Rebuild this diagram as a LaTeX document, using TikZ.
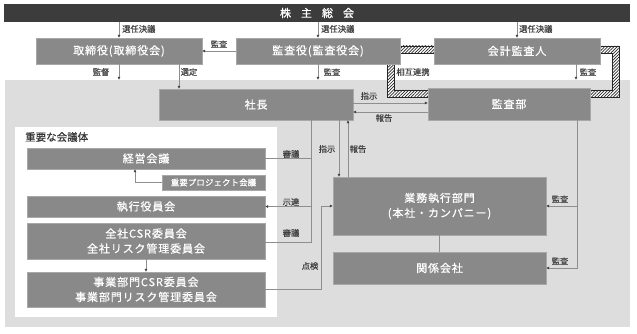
\documentclass[tikz,border=0pt]{standalone}
\usepackage{fontspec}
\setmainfont{Noto Sans CJK JP}
\newfontfamily\boxfont[LetterSpace=8,FakeBold=0.6]{Noto Sans CJK JP}
\newfontfamily\smallboxfont[LetterSpace=3,FakeBold=0.9]{Noto Sans CJK JP}
\newfontfamily\lblfont[FakeBold=0.4]{Noto Sans CJK JP}
\newfontfamily\headfont[FakeBold=1.2]{Noto Sans CJK JP}
\usetikzlibrary{arrows.meta,patterns.meta}
\definecolor{boxgray}{HTML}{898989}
\definecolor{boxedge}{HTML}{A8A8A8}
\definecolor{bggray}{HTML}{DDDDDD}
\definecolor{bardark}{HTML}{3C3C3C}
\definecolor{linegray}{HTML}{8E8E8E}
\definecolor{labelgray}{HTML}{404040}
\tikzset{
  box/.style={fill=boxgray, draw=boxedge, line width=0.6pt, text=white, inner sep=0pt, outer sep=0pt, anchor=north west, align=center, font=\boxfont\fontsize{11}{15}\selectfont},
  smallbox/.style={box, font=\smallboxfont\fontsize{8.3}{10}\selectfont},
  conn/.style={draw=linegray, line width=0.9pt},
  arr/.style={conn, -{Latex[length=3.2pt,width=3pt,color=black!75]}},
  lbl/.style={text=labelgray, inner sep=0pt, font=\lblfont\fontsize{8.3}{10}\selectfont},
  band/.style={draw=black!85, line width=0.5pt, fill=white, postaction={pattern={Lines[angle=45,distance=2.2pt,line width=0.7pt]}, pattern color=black!85}},
}
\begin{document}
\begin{tikzpicture}[x=1pt,y=-1pt]
\useasboundingbox (0,0) rectangle (637,334);
% backgrounds
\fill[bggray] (5,80) rectangle (630,327);
\fill[white] (15,127) rectangle (277,317);
\coordinate (bgtop) at (0,80);
% hatched bands
\draw[band] (400,46) rectangle (434,53);
\draw[band] (600,46) -- (619,46) -- (619,97) -- (590,97) -- (590,90) -- (612,90) -- (612,53) -- (600,53) -- cycle;
\draw[band] (387,64) -- (387,97) -- (428,97) -- (428,90) -- (394,90) -- (394,64) -- cycle;
% top bar
\node[fill=bardark, inner sep=0pt, outer sep=0pt, anchor=north west, minimum width=626pt, minimum height=18pt, text=white, font=\headfont\fontsize{11}{12}\selectfont] (bar) at (4,4) {株\hspace{10pt}主\hspace{10pt}総\hspace{10pt}会};
% boxes
\node[box, minimum width=166pt, minimum height=26pt] (tori) at (36,38) {取締役(取締役会)};
\node[box, minimum width=164pt, minimum height=26pt] (kansa) at (236,38) {監査役(監査役会)};
\node[box, minimum width=166pt, minimum height=26pt] (kaikei) at (434,38) {会計監査人};
\node[box, minimum width=194pt, minimum height=31pt] (shacho) at (159,89) {社長};
\node[box, minimum width=162pt, minimum height=32pt] (kansabu) at (428,88) {監査部};
\node[box, minimum width=238pt, minimum height=21pt] (keiei) at (27,148) {経営会議};
\node[smallbox, minimum width=103pt, minimum height=15pt] (pj) at (162,175) {重要プロジェクト会議};
\node[box, minimum width=238pt, minimum height=21pt] (shikko) at (27,196) {執行役員会};
\node[box, minimum width=238pt, minimum height=36pt] (zensha) at (27,223) {全社CSR委員会\\全社リスク管理委員会};
\node[box, minimum width=238pt, minimum height=35pt] (jigyo) at (27,272) {事業部門CSR委員会\\事業部門リスク管理委員会};
\node[box, minimum width=213pt, minimum height=58pt] (gyomu) at (333,177) {業務執行部門\\(本社・カンパニー)};
\node[box, minimum width=213pt, minimum height=32pt] (kankei) at (333,252) {関係会社};
\node[anchor=west, inner sep=0pt, text=black!80, font=\lblfont\fontsize{10.5}{12}\selectfont] (juyo) at (25,137) {重要な会議体};
% helper coordinates
\coordinate (xsentei) at (179,0);
\coordinate (xkk) at (576,0);
\coordinate (y103) at (0,103);
\coordinate (y112) at (0,112);
\coordinate (v311) at (311,242);
\coordinate (x339) at (339,0);
\coordinate (x348) at (348,0);
\coordinate (x321) at (321,0);
\coordinate (x135) at (135,0);
\coordinate (x577) at (577,0);
% connectors
\draw[arr] (bar.south -| tori.north) -- (tori.north);
\draw[arr] (bar.south -| kansa.north) -- (kansa.north);
\draw[arr] (bar.south -| kaikei.north) -- (kaikei.north);
\draw[arr] (kansa.west) -- (tori.east);
\draw[arr] (tori.south) -- (tori.south |- bgtop);
\draw[arr] (tori.south -| xsentei) -- (xsentei |- shacho.north);
\draw[arr] (kansa.south) -- (kansa.south |- bgtop);
\draw[arr] (kaikei.south -| xkk) -- (xkk |- bgtop);
\draw[arr] (shacho.east |- y103) -- (kansabu.west |- y103);
\draw[arr] (kansabu.west |- y112) -- (shacho.east |- y112);
\draw[conn] (shacho.south -| v311) -- (v311) -- (zensha.east |- v311);
\draw[conn] (keiei.east) -- (keiei.east -| v311);
\draw[arr] (shikko.east -| v311) -- (shikko.east);
\draw[arr] (shacho.south -| x339) -- (x339 |- gyomu.north);
\draw[arr] (gyomu.north -| x348) -- (x348 |- shacho.south);
\draw[arr] (jigyo.east) -- (jigyo.east -| x321) -- (x321 |- gyomu.west) -- (gyomu.west);
\draw[arr] (pj.west) -- (pj.west -| x135) -- (x135 |- keiei.south);
\draw[arr] (zensha.south) -- (jigyo.north);
\draw[conn] (gyomu.south) -- (kankei.north);
\draw[arr] (kansabu.south -| x577) -- (x577 |- kankei.east) -- (kankei.east);
\draw[arr] (x577 |- gyomu.east) -- (gyomu.east);
% labels
\node[lbl, anchor=west] (l1) at (122,29) {選任決議};
\node[lbl, anchor=west] (l2) at (321,29) {選任決議};
\node[lbl, anchor=west] (l3) at (519,29) {選任決議};
\node[lbl] (l4) at (219,44) {監査};
\node[lbl] (l5) at (101,72) {監督};
\node[lbl] (l6) at (189,72) {選定};
\node[lbl] (l7) at (332,72) {監査};
\node[lbl] (l8) at (413,72) {相互連携};
\node[lbl] (l9) at (588,72) {監査};
\node[lbl] (l10) at (369,96) {指示};
\node[lbl] (l11) at (384,118) {報告};
\node[lbl] (l12) at (291,154) {審議};
\node[lbl] (l13) at (291,202) {示達};
\node[lbl] (l14) at (291,233) {審議};
\node[lbl] (l15) at (327,149) {指示};
\node[lbl] (l16) at (358,149) {報告};
\node[lbl] (l17) at (310,266) {点検};
\node[lbl] (l18) at (560,199) {監査};
\node[lbl] (l19) at (560,261) {監査};
\end{tikzpicture}
\end{document}
